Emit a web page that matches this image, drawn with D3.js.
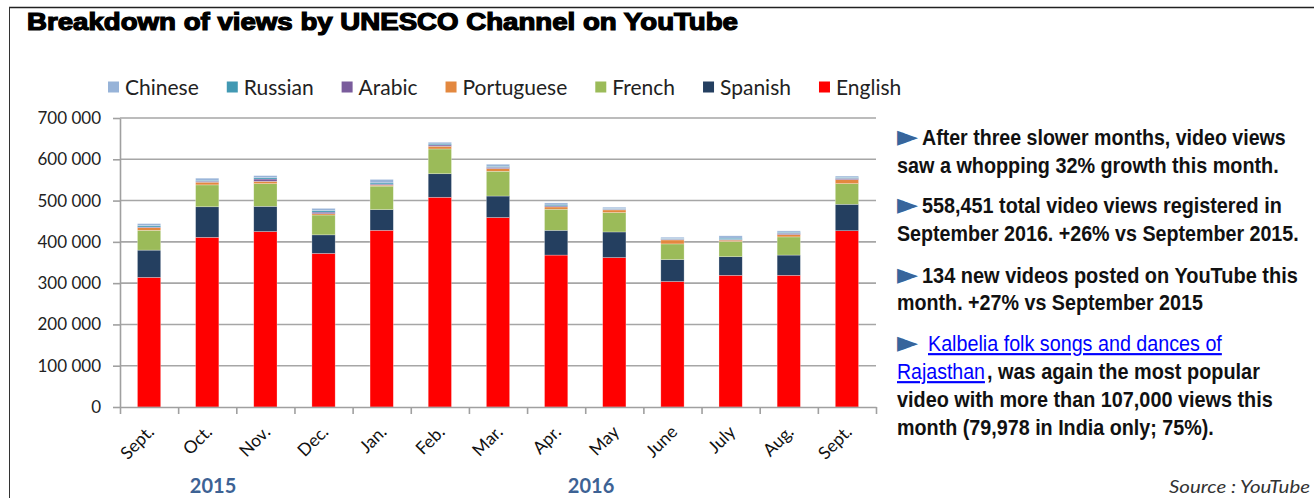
<!DOCTYPE html>
<html>
<head>
<meta charset="utf-8">
<script src="https://cdn.jsdelivr.net/npm/d3@7"></script>
<style>
  body { margin: 0; background: #fff; }
  svg { display: block; }
</style>
</head>
<body>
<svg id="chart" width="1314" height="498"></svg>
<script>
"use strict";

// month labels (Sept 2015 .. Sept 2016)
var months = ["Sept.", "Oct.", "Nov.", "Dec.", "Jan.", "Feb.", "Mar.", "Apr.", "May", "June", "July", "Aug.", "Sept."];
var years = ["2015", "2016"];
var yearFirstMonth = [0, 4];   // index of first month of each year

// views per language
var english    = [314000, 411000, 425000, 372000, 428000, 508000, 459000, 368000, 362000, 304000, 319000, 319000, 427000];
var spanish    = [ 66000,  74000,  61000,  45000,  50000,  57000,  52000,  60000,  62000,  53000,  45000,  49000,  64000];
var french     = [ 48000,  53000,  55000,  48000,  57000,  60000,  60000,  51000,  47000,  38000,  37000,  44000,  50000];
var portuguese = [  6400,   6500,   5600,   3100,   2400,   6500,   6500,   5600,   6400,   9700,   3200,   5600,   9700];
var arabic     = [  1600,   2400,   5600,   4000,   2500,   3200,   3200,   2400,   1600,   1700,   1600,   3300,   3200];
var russian    = [  3400,   2400,   3200,   4000,   3000,   2400,   2400,   2400,   1600,   1700,   3200,   2500,   2400];
var chinese    = [  4800,   4900,   5000,   5000,   8300,   4200,   4900,   4900,   3300,   3100,   5600,   3200,   3000];

var yTicks = [0, 100000, 200000, 300000, 400000, 500000, 600000, 700000];

// stack bottom -> top, legend shows the reverse
var keys = ["English", "Spanish", "French", "Portuguese", "Arabic", "Russian", "Chinese"];
var seriesValues = [english, spanish, french, portuguese, arabic, russian, chinese];
var colors = {
  English: "#ff0000", Spanish: "#243f60", French: "#9bbb59", Portuguese: "#e3883f",
  Arabic: "#7a5c9c", Russian: "#4299b3", Chinese: "#97b3d8"
};

var rows = months.map(function(m, i) {
  var r = { idx: i, month: m };
  keys.forEach(function(k, j) { r[k] = seriesValues[j][i]; });
  return r;
});

var svg = d3.select("#chart");
var labelFont = "Lato, 'Open Sans', sans-serif";

svg.append("rect").attr("width", 1314).attr("height", 498).attr("fill", "#fff");

// frame (top + left)
svg.append("line").attr("x1", 9).attr("x2", 1314).attr("y1", 7.5).attr("y2", 7.5)
   .attr("stroke", "#222").attr("stroke-width", 1.6);
svg.append("line").attr("x1", 9.5).attr("x2", 9.5).attr("y1", 7).attr("y2", 498)
   .attr("stroke", "#333").attr("stroke-width", 1);

// title
svg.append("text")
   .attr("x", 27).attr("y", 30)
   .attr("textLength", 711).attr("lengthAdjust", "spacingAndGlyphs")
   .style("font-family", "'Liberation Sans', Arial, sans-serif")
   .style("font-weight", "900").style("font-size", "23px")
   .attr("fill", "#000").attr("stroke", "#000").attr("stroke-width", 1.2)
   .text("Breakdown of views by UNESCO Channel on YouTube");

var plotLeft = 120, plotRight = 876, plotTop = 118, plotBottom = 407;

var x = d3.scaleBand().domain(d3.range(months.length)).range([plotLeft, plotRight]).paddingInner(0.6).paddingOuter(0.3);
var xEdge = d3.scaleLinear().domain([0, months.length]).range([plotLeft, plotRight]);
var y = d3.scaleLinear().domain([0, 700000]).range([plotBottom, plotTop]);

// gridlines
svg.append("g").selectAll("line").data(yTicks.slice(1)).enter().append("line")
   .attr("x1", plotLeft).attr("x2", plotRight)
   .attr("y1", function(d) { return y(d); }).attr("y2", function(d) { return y(d); })
   .attr("stroke", "#a6a6a6").attr("stroke-width", 1.6);

// y axis
var yAxis = svg.append("g").attr("transform", "translate(" + plotLeft + ",0)")
   .call(d3.axisLeft(y).tickValues(yTicks).tickSizeInner(7).tickSizeOuter(0).tickPadding(12)
     .tickFormat(function(d) { return d3.format(",")(d).replace(/,/g, " "); }));
yAxis.selectAll("line, path").attr("stroke", "#a0a0a0").attr("stroke-width", 1.6);
yAxis.selectAll("text").style("font-family", labelFont).style("font-size", "17px").attr("fill", "#222");

// bars
var stacked = d3.stack().keys(keys)(rows);
svg.append("g").selectAll("g").data(stacked).enter().append("g")
   .attr("fill", function(s) { return colors[s.key]; })
   .selectAll("rect").data(function(s) { return s; }).enter().append("rect")
   .attr("x", function(d) { return x(d.data.idx); })
   .attr("width", x.bandwidth())
   .attr("y", function(d) { return y(d[1]); })
   .attr("height", function(d) { return y(d[0]) - y(d[1]); })
   .attr("stroke", "#fff").attr("stroke-opacity", 0.45).attr("stroke-width", 0.6);

// x axis
var xAxis = svg.append("g").attr("transform", "translate(0," + plotBottom + ")")
   .call(d3.axisBottom(xEdge).tickValues(d3.range(months.length + 1)).tickFormat("").tickSizeInner(7).tickSizeOuter(0));
xAxis.selectAll("line, path").attr("stroke", "#a0a0a0").attr("stroke-width", 1.6);

// month labels
svg.append("g").selectAll("text").data(rows).enter().append("text")
   .attr("transform", function(d) {
     var cx = x(d.idx) + x.bandwidth() / 2 + 6;
     return "translate(" + cx + ",433) rotate(-45)";
   })
   .attr("text-anchor", "end")
   .style("font-family", labelFont).style("font-size", "17.5px").attr("fill", "#111")
   .text(function(d) { return d.month; });

// year labels
svg.append("g").selectAll("text").data(years).enter().append("text")
   .attr("x", function(d, i) {
     var a = yearFirstMonth[i], b = i + 1 < years.length ? yearFirstMonth[i + 1] : months.length;
     return (xEdge(a) + xEdge(b)) / 2 - 0.4 * (xEdge(1) - xEdge(0));
   })
   .attr("y", 493).attr("text-anchor", "middle")
   .style("font-family", labelFont).style("font-weight", "bold").style("font-size", "20px")
   .attr("fill", "#3d6294")
   .text(function(d) { return d; });

// legend
var legend = svg.append("g").attr("transform", "translate(108,87)");
var lx = 0;
keys.slice().reverse().forEach(function(k) {
  var g = legend.append("g").attr("transform", "translate(" + lx + ",0)");
  g.append("rect").attr("x", 0).attr("y", -5.5).attr("width", 11).attr("height", 11).attr("fill", colors[k]);
  var t = g.append("text").attr("x", 17).attr("y", 7.5)
     .style("font-family", labelFont).style("font-size", "21px").attr("fill", "#222").text(k);
  lx += 17 + t.node().getComputedTextLength() + 28;
});

// notes on the right: bold sans, squeezed horizontally to the widths seen in the picture
var noteFont = "'Liberation Sans', Arial, sans-serif";
var notes = svg.append("g");
function tri(yy) {
  var t = notes.append("text").attr("x", 0).attr("y", 0)
     .style("font-family", "'DejaVu Sans', sans-serif").style("font-size", "30px")
     .attr("fill", "#37659c").text("\u25BA");
  var sx = 21 / t.node().getComputedTextLength();
  t.attr("transform", "translate(897," + (yy + 1) + ") scale(" + sx + ",1)");
}
function line(xx, yy, w, txt, link) {
  var t = notes.append("text").attr("x", 0).attr("y", 0)
     .style("font-family", noteFont).style("font-size", "21.5px")
     .style("font-weight", link ? "normal" : "bold")
     .attr("fill", link ? "#0000ff" : "#111").text(txt);
  if (link) t.style("text-decoration", "underline");
  var sx = w / t.node().getComputedTextLength();
  t.attr("transform", "translate(" + xx + "," + yy + ") scale(" + sx + ",1)");
}
tri(145); line(922, 145, 364, "After three slower months, video views");
line(897, 173, 382, "saw a whopping 32% growth this month.");
tri(213); line(922, 213, 360, "558,451 total video views registered in");
line(897, 241, 402, "September 2016. +26% vs September 2015.");
tri(283); line(922, 283, 376, "134 new videos posted on YouTube this");
line(897, 310, 306, "month. +27% vs September 2015");
tri(351); line(928, 351, 294, "Kalbelia folk songs and dances of", true);
line(897, 379, 88, "Rajasthan", true); line(987, 379, 273, ", was again the most popular");
line(897, 407, 376, "video with more than 107,000 views this");
line(897, 435, 317, "month (79,978 in India only; 75%).");

// source
svg.append("text").attr("x", 1169).attr("y", 493)
   .attr("textLength", 141).attr("lengthAdjust", "spacingAndGlyphs")
   .style("font-family", labelFont).style("font-style", "italic").style("font-size", "17px")
   .attr("fill", "#333").text("Source : YouTube");
</script>
</body>
</html>
